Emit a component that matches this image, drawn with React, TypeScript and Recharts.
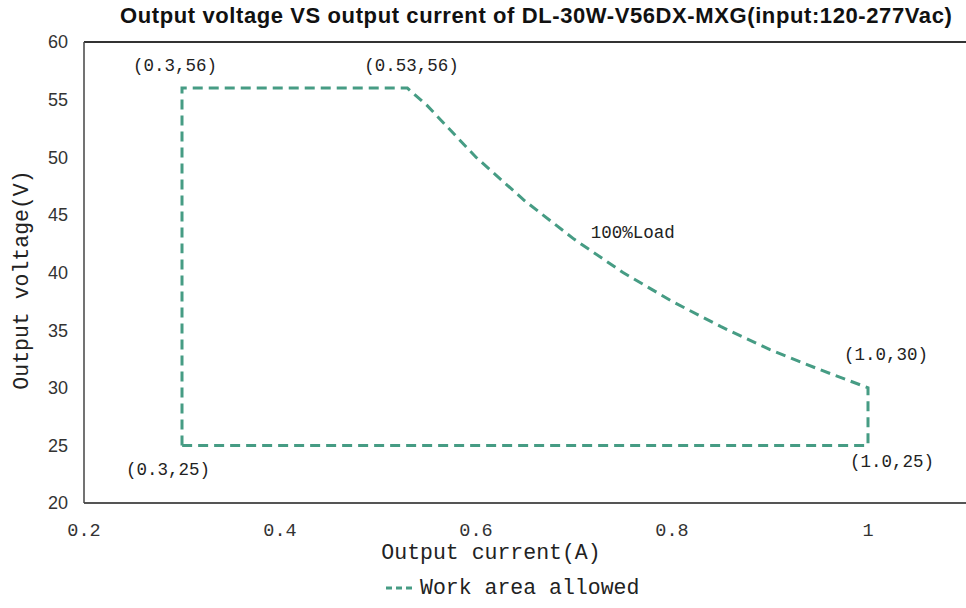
import { LineChart, Line, XAxis, YAxis, ReferenceLine, ReferenceDot } from 'recharts'

// boundary of the allowed work area, traced in order
const currentA = [0.3, 0.3, 0.53, 0.55, 0.6, 0.65, 0.7, 0.75, 0.8, 0.85, 0.9, 0.95, 1.0, 1.0, 0.3]
const voltageV = [25, 56, 56, 54.5, 50, 46.2, 42.9, 40, 37.5, 35.3, 33.3, 31.6, 30, 25, 25]

const xTicks = [0.2, 0.4, 0.6, 0.8, 1]
const yTicks = [20, 25, 30, 35, 40, 45, 50, 55, 60]

const pointLabels = ['(0.3,56)', '(0.53,56)', '(1.0,30)', '(1.0,25)', '(0.3,25)', '100%Load']
const pointX = [0.3, 0.53, 1.0, 1.0, 0.3, 0.76]
const pointY = [56, 56, 30, 25, 25, 43.4]

const data = currentA.map((x, i) => ({ x, v: voltageV[i] }))

const LINE = '#469c84'
const MONO = '"Liberation Mono", "DejaVu Sans Mono", monospace'

// label offsets in px from the anchor point
const offsets: [number, number][] = [
  [-7, -22], [4, -22], [18, -33], [24, 17], [-14, 25], [0, 0],
]

const PointLabel = ({ viewBox, text, dx, dy }: any) => {
  const cx = viewBox.x + (viewBox.width || 0) / 2
  const cy = viewBox.y + (viewBox.height || 0) / 2
  return (
    <text x={cx + dx} y={cy + dy} textAnchor="middle" dominantBaseline="central"
      fontFamily={MONO} fontSize={17.5} fill="#222">
      {text}
    </text>
  )
}

export default function App() {
  return (
    <div style={{ position: 'absolute', left: 0, top: 0, width: 966, height: 608, background: '#fff', fontFamily: '"Liberation Sans", Arial, sans-serif' }}>
      <div style={{ position: 'absolute', left: 120, width: 830, top: 3, textAlign: 'center', fontWeight: 'bold', fontSize: 22, color: '#111', letterSpacing: 0.6, whiteSpace: 'nowrap' }}>
        Output voltage VS output current of DL-30W-V56DX-MXG(input:120-277Vac)
      </div>
      <LineChart width={966} height={608} data={data} margin={{ top: 42, right: 0, bottom: 0, left: 0 }}>
        <XAxis
          type="number"
          dataKey="x"
          domain={[0.2, 1.1]}
          ticks={xTicks}
          allowDataOverflow
          height={105}
          tickLine={false}
          tickMargin={14}
          axisLine={{ stroke: '#555', strokeWidth: 2 }}
          tick={{ fontFamily: MONO, fontSize: 18.5, fill: '#333' }}
          tickFormatter={(v: number) => (v === 1 ? '1' : v.toFixed(1))}
        />
        <YAxis
          type="number"
          domain={[20, 60]}
          ticks={yTicks}
          width={84}
          tickLine={false}
          tickMargin={10}
          axisLine={{ stroke: '#444', strokeWidth: 1.5 }}
          tick={{ fontSize: 18, fill: '#333' }}
        />
        <ReferenceLine y={60} stroke="#333" strokeWidth={2} />
        <Line
          dataKey="v"
          type="linear"
          stroke={LINE}
          strokeWidth={3}
          strokeDasharray="10 6"
          dot={false}
          isAnimationActive={false}
        />
        {pointLabels.map((t, i) => (
          <ReferenceDot key={t} x={pointX[i]} y={pointY[i]} r={0} stroke="none"
            label={<PointLabel text={t} dx={offsets[i][0]} dy={offsets[i][1]} />} />
        ))}
      </LineChart>
      <div style={{ position: 'absolute', left: 0, width: 966, top: 541, textAlign: 'center', fontFamily: MONO, fontSize: 21.5, color: '#222', paddingLeft: 8 }}>
        Output current(A)
      </div>
      <div style={{ position: 'absolute', left: 22, top: 280, transform: 'translate(-50%, -50%) rotate(-90deg)', whiteSpace: 'nowrap', fontFamily: MONO, fontSize: 21.5, color: '#222' }}>
        Output voltage(V)
      </div>
      <div style={{ position: 'absolute', left: 386, top: 576, display: 'flex', alignItems: 'center', fontFamily: MONO, fontSize: 21.5, color: '#222' }}>
        <svg width={26} height={10} style={{ marginRight: 8 }}>
          <line x1={0} y1={5} x2={26} y2={5} stroke={LINE} strokeWidth={3} strokeDasharray="6 4" />
        </svg>
        Work area allowed
      </div>
    </div>
  )
}
